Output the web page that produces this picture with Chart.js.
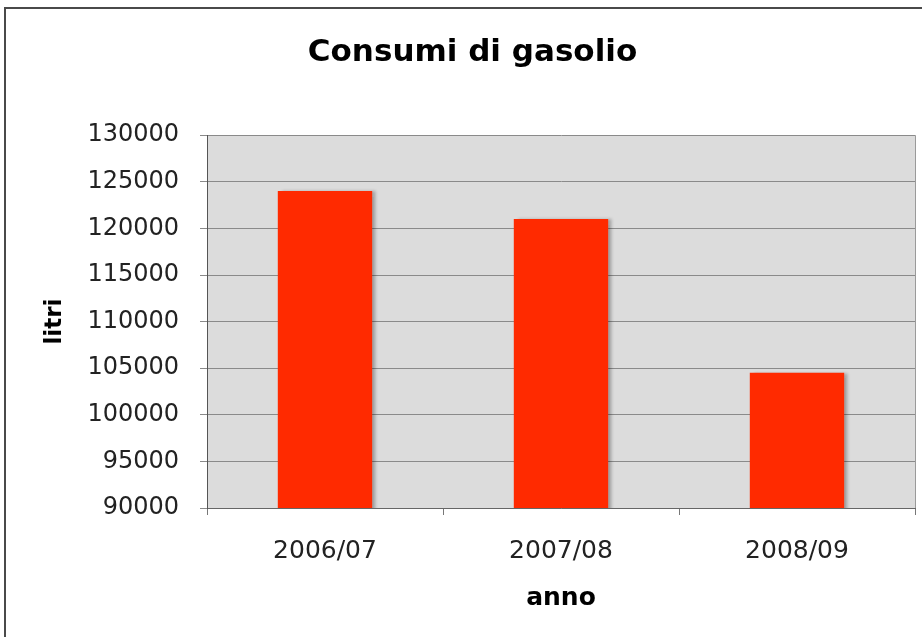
<!DOCTYPE html>
<html>
<head>
<meta charset="utf-8">
<script src="https://cdn.jsdelivr.net/npm/chart.js@4/dist/chart.umd.min.js"></script>
<style>
  body { margin: 0; background: #fff; }
  #frame { position: absolute; left: 4px; top: 7px; width: 1000px; height: 1000px; border: 2px solid #4a4a4a; }
  #wrap { position: absolute; left: 0; top: 0; width: 922px; height: 637px; }
</style>
</head>
<body>
<div id="frame"></div>
<div id="wrap"><canvas id="graphCanvas"></canvas></div>
<script>
// dati
var anni = ['2006/07', '2007/08', '2008/09'];
var litri = [124000, 121000, 104500];
var yMin = 90000, yMax = 130000, yStep = 5000;

var fontFamily = "'DejaVu Sans', Verdana, sans-serif";

// sfondo grigio dell'area del grafico + bordo
var plotBackground = {
    id: 'plotBackground',
    beforeDraw: function (chart) {
        var a = chart.chartArea, ctx = chart.ctx;
        ctx.save();
        ctx.fillStyle = '#dcdcdc';
        ctx.fillRect(a.left, a.top, a.right - a.left, a.bottom - a.top);
        ctx.strokeStyle = '#9a9a9a';
        ctx.lineWidth = 1;
        ctx.beginPath();
        ctx.moveTo(a.right + 0.5, a.top);
        ctx.lineTo(a.right + 0.5, a.bottom);
        ctx.stroke();
        ctx.restore();
    }
};

// ombra leggera delle barre
var barShadow = {
    id: 'barShadow',
    beforeDatasetsDraw: function (chart) {
        var ctx = chart.ctx;
        ctx.save();
        ctx.shadowColor = 'rgba(0,0,0,0.25)';
        ctx.shadowOffsetX = 4;
        ctx.shadowOffsetY = 0;
        ctx.shadowBlur = 3;
    },
    afterDatasetsDraw: function (chart) {
        chart.ctx.restore();
    }
};

var chartdata = {
    labels: anni,
    datasets: [
        {
            label: 'litri',
            backgroundColor: '#ff2a00',
            borderWidth: 0,
            categoryPercentage: 1,
            barPercentage: 0.4,
            data: litri
        }
    ]
};

var graphTarget = document.getElementById('graphCanvas');

var barGraph = new Chart(graphTarget, {
    type: 'bar',
    data: chartdata,
    plugins: [plotBackground, barShadow],
    options: {
        responsive: true,
        maintainAspectRatio: false,
        animation: false,
        layout: { padding: { left: 30, right: 7, top: 0, bottom: 0 } },
        plugins: {
            legend: { display: false },
            tooltip: { enabled: false },
            title: {
                display: true,
                text: 'Consumi di gasolio',
                color: '#000',
                font: { family: fontFamily, size: 31, weight: 'bold' },
                padding: { top: 34, bottom: 64 }
            }
        },
        scales: {
            x: {
                afterFit: function (s) { s.height = 129; },
                grid: {
                    display: true,
                    drawOnChartArea: false,
                    drawTicks: true,
                    tickLength: 7,
                    color: '#777'
                },
                border: { display: true, color: '#666', width: 1 },
                ticks: {
                    color: '#222',
                    padding: 21,
                    font: { family: fontFamily, size: 25 }
                },
                title: {
                    display: true,
                    text: 'anno',
                    color: '#000',
                    font: { family: fontFamily, size: 25, weight: 'bold' },
                    padding: { top: 0, bottom: 24 }
                }
            },
            y: {
                min: yMin,
                max: yMax,
                afterFit: function (s) { s.width = 177; },
                grid: {
                    color: '#8a8a8a',
                    drawTicks: true,
                    tickLength: 7
                },
                border: { display: true, color: '#555', width: 1 },
                ticks: {
                    stepSize: yStep,
                    color: '#222',
                    padding: 21,
                    font: { family: fontFamily, size: 24 },
                    callback: function (v) { return String(v); }
                },
                title: {
                    display: true,
                    text: 'litri',
                    color: '#000',
                    font: { family: fontFamily, size: 23, weight: 'bold' },
                    padding: { top: 11, bottom: 0 }
                }
            }
        }
    }
});
</script>
</body>
</html>
